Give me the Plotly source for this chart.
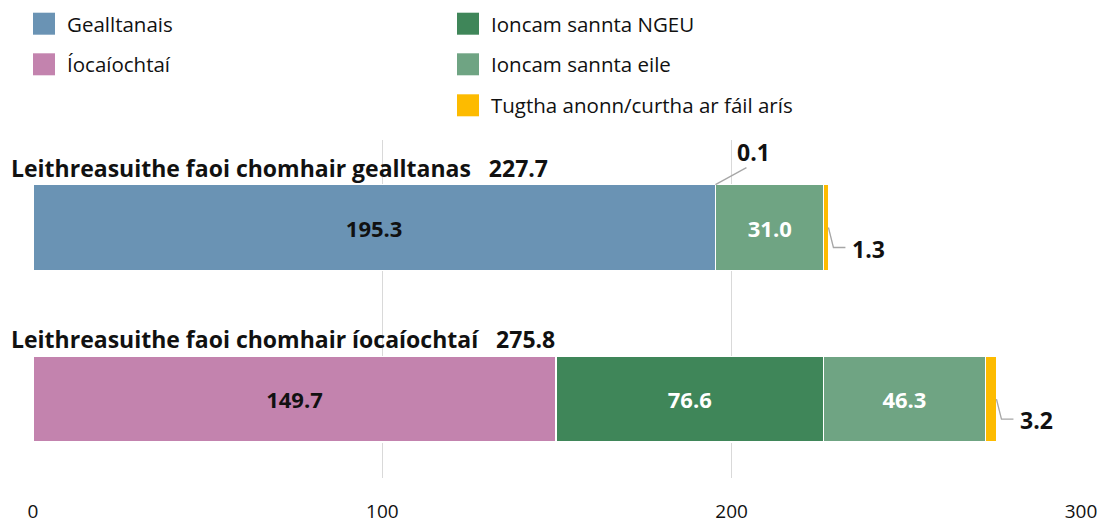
import plotly.graph_objects as go

# ---------------- data ----------------
categories = ["Leithreasuithe faoi chomhair íocaíochtaí",
              "Leithreasuithe faoi chomhair gealltanas"]
totals = [275.8, 227.7]

series_names = ["Gealltanais", "Íocaíochtaí", "Ioncam sannta NGEU",
                "Ioncam sannta eile", "Tugtha anonn/curtha ar fáil arís"]
gealltanais = [None, 195.3]
iocaiochtai = [149.7, None]
ngeu = [76.6, 0.1]
eile = [46.3, 31.0]
tugtha = [3.2, 1.3]
series_values = [gealltanais, iocaiochtai, ngeu, eile, tugtha]

x_ticks = [0, 100, 200, 300]

# ---------------- style ----------------
colors = ["#6a93b4", "#c383ae", "#3f8659", "#6fa483", "#fdbb00"]
text_colors = ["#111111", "#111111", "#ffffff", "#ffffff", "#111111"]
FONT = "Open Sans"
OFF = 8  # page body margin
W, H = 1105 - OFF, 524 - OFF
# desired plot area in page pixels
P_L, P_R, P_T, P_B = 33, 1081, 140, 478
ML, MT = P_L - OFF, P_T - OFF
MR = W - (P_R - OFF)
MB = H - (P_B - OFF)
plot_w = P_R - P_L
plot_h = P_B - P_T
x_range = [0, 300]
y_range = [-0.46, 1.51]


def px_x(px):  # page px -> paper x
    return (px - P_L) / plot_w


def px_y(py):  # page px -> paper y
    return 1 - (py - P_T) / plot_h


fig = go.Figure()
for name, vals, col, tcol in zip(series_names, series_values, colors, text_colors):
    texts = [("" if (v is None or v < 10) else f"{v:.1f}") for v in vals]
    fig.add_trace(go.Bar(
        y=[0, 1], x=vals, orientation="h", name=name,
        marker=dict(color=col, line=dict(color="white", width=1.2)),
        width=0.5, text=texts, textposition="inside",
        insidetextanchor="middle", constraintext="none",
        textfont=dict(family=FONT, size=22, color=tcol, weight="bold"),
        showlegend=False, hoverinfo="skip",
    ))

annotations = []
shapes = []

# category headings
for i, (cat, tot) in enumerate(zip(categories, totals)):
    annotations.append(dict(
        xref="paper", yref="y", x=px_x(9), y=i, yshift=60,
        xanchor="left", yanchor="middle", showarrow=False,
        text=f"<b>{cat}\u00a0\u00a0\u00a0{tot:.1f}</b>",
        font=dict(family=FONT, size=23, color="#111111")))

# small-value labels with leader lines
grey = "#a6a6a6"
ngeu_mid = gealltanais[1] + ngeu[1] / 2
shapes.append(dict(type="path", xref="x", yref="y", xsizemode="pixel", ysizemode="pixel",
                   xanchor=ngeu_mid, yanchor=1 + 0.25, path="M0,0 L31,17",
                   line=dict(color=grey, width=1.3)))
annotations.append(dict(xref="x", yref="y", x=ngeu_mid, y=1.25, xshift=38, yshift=33,
                        xanchor="center", yanchor="middle", showarrow=False,
                        text=f"<b>{ngeu[1]:.1f}</b>",
                        font=dict(family=FONT, size=23, color="#111111")))
for i in range(2):
    end = totals[i]
    shapes.append(dict(type="path", xref="x", yref="y", xsizemode="pixel", ysizemode="pixel",
                       xanchor=end, yanchor=i, path="M0,0 L5,-20 L17,-20",
                       line=dict(color=grey, width=1.3)))
    annotations.append(dict(xref="x", yref="y", x=end, y=i, xshift=22, yshift=-21,
                            xanchor="left", yanchor="middle", showarrow=False,
                            text=f"<b>{tugtha[i]:.1f}</b>",
                            font=dict(family=FONT, size=23, color="#111111")))

# legend (drawn manually: two columns), page-pixel positions
legend_pos = [(33, 23.7), (33, 64.3), (457, 23.7), (457, 64.3), (457, 105.3)]
sq = 22
for name, col, (lx, ly) in zip(series_names, colors, legend_pos):
    shapes.append(dict(type="rect", xref="paper", yref="paper",
                       x0=px_x(lx), x1=px_x(lx + sq),
                       y0=px_y(ly + sq / 2), y1=px_y(ly - sq / 2),
                       fillcolor=col, line=dict(width=0)))
    annotations.append(dict(xref="paper", yref="paper", x=px_x(lx + 32),
                            y=px_y(ly), xanchor="left", yanchor="middle",
                            showarrow=False, text=name,
                            font=dict(family=FONT, size=20.5, color="#111111")))

fig.update_layout(
    width=W, height=H, barmode="stack",
    margin=dict(l=ML, r=MR, t=MT, b=MB, autoexpand=False),
    plot_bgcolor="white", paper_bgcolor="white",
    font=dict(family=FONT, size=20, color="#111111"),
    xaxis=dict(range=x_range, tickvals=x_ticks, showgrid=True, gridcolor="#d9d9d9",
               gridwidth=1, zeroline=False, showline=False, ticks="", automargin=False,
               ticklabelstandoff=20, tickfont=dict(family=FONT, size=19, color="#111111")),
    yaxis=dict(range=y_range, showticklabels=False, showgrid=False, zeroline=False,
               showline=False, ticks="", automargin=False),
    annotations=annotations, shapes=shapes,
)

fig.write_html("out.html")
